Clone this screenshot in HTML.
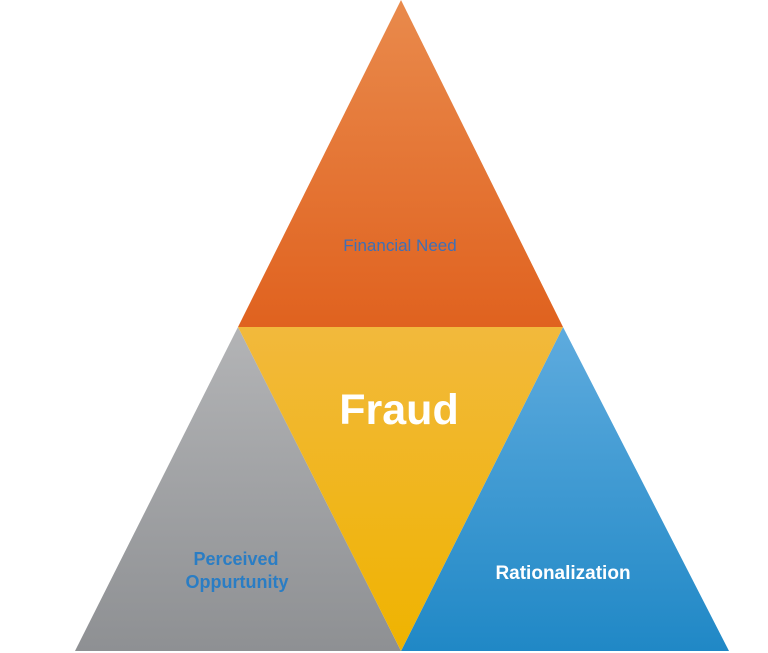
<!DOCTYPE html>
<html><head><style>html,body{margin:0;padding:0;background:#fff;width:768px;height:653px;overflow:hidden}</style></head>
<body>
<svg width="768" height="653" viewBox="0 0 768 653" xmlns="http://www.w3.org/2000/svg">
<defs>
<linearGradient id="o" x1="0" y1="0" x2="0" y2="1"><stop offset="0" stop-color="#e98a4c"/><stop offset="1" stop-color="#e0621f"/></linearGradient>
<linearGradient id="g" x1="0" y1="0" x2="0" y2="1"><stop offset="0" stop-color="#b3b4b6"/><stop offset="1" stop-color="#8e9093"/></linearGradient>
<linearGradient id="b" x1="0" y1="0" x2="0" y2="1"><stop offset="0" stop-color="#5eabde"/><stop offset="1" stop-color="#2088c6"/></linearGradient>
<linearGradient id="y" x1="0" y1="0" x2="0" y2="1"><stop offset="0" stop-color="#f2b93c"/><stop offset="1" stop-color="#efb300"/></linearGradient>
</defs>
<polygon points="401,0 563,327 238,327" fill="url(#o)"/>
<polygon points="238,327 401,651 75,651" fill="url(#g)"/>
<polygon points="563,327 729,651 401,651" fill="url(#b)"/>
<polygon points="238,327 563,327 401,651" fill="url(#y)"/>
<g font-family="Liberation Sans, sans-serif" text-anchor="middle">
<text x="400" y="251" font-size="17" fill="#3f6fb5">Financial Need</text>
<text x="399" y="424" font-size="43" font-weight="bold" fill="#fff">Fraud</text>
<text x="236" y="565" font-size="18" font-weight="bold" fill="#2a7dc4">Perceived</text>
<text x="237" y="588" font-size="18" font-weight="bold" fill="#2a7dc4">Oppurtunity</text>
<text x="563" y="579" font-size="19" font-weight="bold" fill="#fff">Rationalization</text>
</g>
</svg>
</body></html>
